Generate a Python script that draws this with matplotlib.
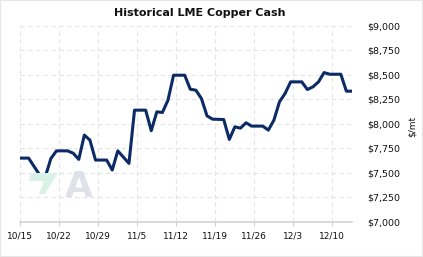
import matplotlib
matplotlib.use("Agg")
import matplotlib.pyplot as plt
import matplotlib.dates as mdates
import matplotlib.ticker as mticker
from matplotlib.patches import Polygon, Rectangle
import pandas as pd

# ---- data (daily, weekends carry Friday's close) ----
start_date = "2021-10-15"
prices = [7650, 7650, 7650, 7563, 7476, 7460, 7646, 7724, 7724, 7724,
          7700, 7637, 7885, 7834, 7630, 7630, 7630, 7528, 7724, 7660,
          7596, 8140, 8140, 8140, 7930, 8123, 8116, 8242, 8497, 8497,
          8497, 8354, 8344, 8259, 8082, 8048, 8046, 8044, 7841, 7970,
          7956, 8011, 7977, 7977, 7977, 7936, 8038, 8225, 8310, 8429,
          8429, 8429, 8351, 8378, 8429, 8524, 8507, 8507, 8507, 8334,
          8334]
dates = pd.date_range(start_date, periods=len(prices), freq="D")
tick_labels = ["10/15", "10/22", "10/29", "11/5", "11/12", "11/19", "11/26", "12/3", "12/10"]
tick_dates = pd.date_range(start_date, periods=len(tick_labels), freq="7D")
y_ticks = [7000, 7250, 7500, 7750, 8000, 8250, 8500, 8750, 9000]

W, H = 423, 257
fig = plt.figure(figsize=(W / 100, H / 100), dpi=100)
ax = fig.add_axes([20 / W, 1 - 221.7 / H, (352 - 20) / W, (221.7 - 26) / H])

# watermark
fig.patches.append(Polygon([(31 / W, 1 - 173 / H), (58 / W, 1 - 173 / H), (45 / W, 1 - 194 / H),
                            (39 / W, 1 - 194 / H), (44 / W, 1 - 181 / H), (29 / W, 1 - 181 / H)],
                           closed=True, transform=fig.transFigure, facecolor="#d9f2e8",
                           edgecolor="none", zorder=0))
fig.text(79 / W, 1 - 187 / H, "A", fontsize=26, fontweight="bold", color="#dfe2e9",
         ha="center", va="center", zorder=0)
ax.set_facecolor("none")

# shift so each close sits where the source draws it
xs = dates - pd.Timedelta(hours=11)
ax.plot(xs, prices, color="#0b2a66", lw=2.2, solid_joinstyle="round", zorder=3)

x0 = pd.Timestamp(start_date)
ax.set_xlim(x0, x0 + pd.Timedelta(days=59.55))
ax.set_ylim(7000, 9000)

ax.set_xticks(tick_dates)
ax.set_xticklabels(tick_labels)
ax.set_yticks(y_ticks)
ax.yaxis.set_major_formatter(mticker.FuncFormatter(lambda v, p: "${:,.0f}".format(v)))
ax.yaxis.tick_right()

ax.grid(True, color="#e4e4e4", linestyle=(0, (4, 3)), linewidth=0.8)
ax.set_axisbelow(True)
for s in ["top", "right", "left"]:
    ax.spines[s].set_visible(False)
ax.spines["bottom"].set_color("#d4d4d4")
ax.spines["bottom"].set_linewidth(1.2)

ax.tick_params(axis="x", length=3, color="#cccccc", pad=4, labelsize=6.5, labelcolor="#111111")
ax.tick_params(axis="y", length=0, pad=11, labelsize=6.8, labelcolor="#111111")

fig.text(200 / W, 1 - 13.5 / H, "Historical LME Copper Cash", fontsize=8, fontweight="bold",
         ha="center", va="center", color="#111111")
fig.text(412 / W, 1 - 126 / H, "$/mt", fontsize=6.5, rotation=90, ha="center", va="center",
         color="#111111")

fig.patches.append(Rectangle((0, 0), 1, 1, transform=fig.transFigure, fill=False,
                             edgecolor="#e6e6e6", linewidth=1.5))

fig.savefig("out.png", dpi=100)
